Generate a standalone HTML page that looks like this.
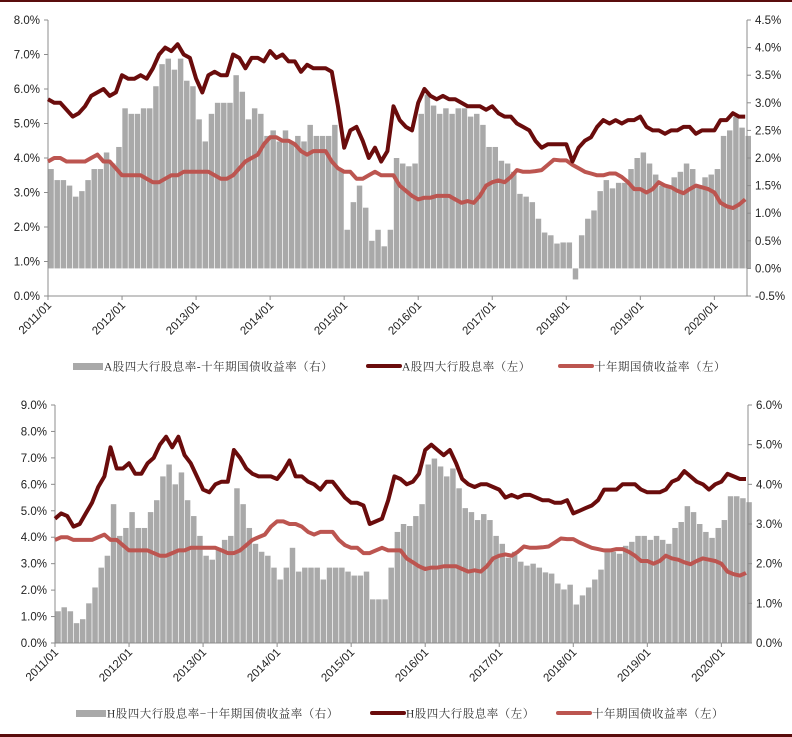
<!DOCTYPE html>
<html><head><meta charset="utf-8">
<style>
html,body{margin:0;padding:0;background:#fff;}
svg{display:block;font-family:"Liberation Serif","Noto Serif CJK SC",serif;}
.tk{font-family:"Liberation Sans",sans-serif;}
</style></head>
<body>
<svg id="c" width="792" height="737" viewBox="0 0 792 737" xmlns="http://www.w3.org/2000/svg">
<rect x="0" y="0" width="792" height="737" fill="#fff"/>
<rect x="0" y="0" width="792" height="2" fill="#5a0d0d"/>
<rect x="0" y="734" width="792" height="3" fill="#5a0d0d"/>
</svg>
<script>
// ---- data (monthly, starting 2011/01) ----
const aDiv = [5.7,5.6,5.6,5.4,5.2,5.3,5.5,5.8,5.9,6.0,5.8,5.9,6.4,6.3,6.3,6.4,6.3,6.6,7.0,7.2,7.1,7.3,7.0,6.9,6.3,5.9,6.4,6.5,6.4,6.4,7.0,6.9,6.6,6.9,6.9,6.8,7.1,6.9,7.0,6.8,6.8,6.5,6.7,6.6,6.6,6.6,6.5,5.5,4.3,4.8,4.9,4.5,4.0,4.3,3.9,4.2,5.5,5.1,4.9,4.8,5.6,6.0,5.8,5.7,5.8,5.7,5.7,5.6,5.5,5.5,5.5,5.4,5.5,5.3,5.2,5.2,5.0,4.9,4.8,4.5,4.3,4.4,4.4,4.4,4.4,3.9,4.3,4.5,4.6,4.9,5.1,5.0,5.1,5.0,5.1,5.1,5.2,4.9,4.8,4.8,4.7,4.8,4.8,4.9,4.9,4.7,4.8,4.8,4.8,5.1,5.1,5.3,5.2,5.2];
const bond = [3.9,4.0,4.0,3.9,3.9,3.9,3.9,4.0,4.1,3.9,3.9,3.7,3.5,3.5,3.5,3.5,3.4,3.3,3.3,3.4,3.5,3.5,3.6,3.6,3.6,3.6,3.6,3.5,3.4,3.4,3.5,3.7,3.9,4.0,4.1,4.4,4.6,4.6,4.5,4.5,4.4,4.2,4.1,4.2,4.2,4.2,3.9,3.7,3.6,3.6,3.4,3.4,3.5,3.6,3.5,3.5,3.5,3.2,3.05,2.9,2.8,2.85,2.85,2.9,2.9,2.9,2.8,2.7,2.75,2.7,2.9,3.2,3.3,3.35,3.3,3.45,3.65,3.6,3.6,3.62,3.65,3.8,3.95,3.93,3.93,3.8,3.7,3.6,3.55,3.5,3.5,3.55,3.55,3.45,3.3,3.1,3.1,3.0,3.1,3.3,3.2,3.15,3.05,2.98,3.1,3.2,3.15,3.1,3.0,2.7,2.6,2.55,2.65,2.8];
const aGap = [1.8,1.6,1.6,1.5,1.3,1.4,1.6,1.8,1.8,2.1,1.9,2.2,2.9,2.8,2.8,2.9,2.9,3.3,3.7,3.8,3.6,3.8,3.4,3.3,2.7,2.3,2.8,3.0,3.0,3.0,3.5,3.2,2.7,2.9,2.8,2.4,2.5,2.3,2.5,2.3,2.4,2.3,2.6,2.4,2.4,2.4,2.6,1.8,0.7,1.2,1.5,1.1,0.5,0.7,0.4,0.7,2.0,1.9,1.85,1.9,2.8,3.15,2.95,2.8,2.9,2.8,2.9,2.9,2.75,2.8,2.6,2.2,2.2,1.95,1.9,1.75,1.35,1.3,1.2,0.9,0.65,0.6,0.45,0.47,0.47,-0.2,0.6,0.9,1.05,1.4,1.6,1.45,1.55,1.55,1.8,2.0,2.1,1.9,1.7,1.5,1.5,1.65,1.75,1.9,1.8,1.5,1.65,1.7,1.8,2.4,2.5,2.75,2.55,2.4];
const hDiv = [4.7,4.9,4.8,4.4,4.5,4.9,5.3,5.9,6.3,7.4,6.6,6.6,6.8,6.4,6.4,6.8,7.0,7.5,7.8,7.4,7.8,7.1,6.8,6.3,5.8,5.7,6.0,6.1,6.1,7.3,7.0,6.6,6.4,6.3,6.3,6.3,6.2,6.5,6.9,6.3,6.3,6.1,6.0,5.8,6.1,6.1,5.8,5.5,5.3,5.3,5.2,4.5,4.6,4.7,5.4,6.3,6.2,6.0,6.1,6.4,7.3,7.5,7.3,7.1,7.3,6.8,6.2,6.0,5.9,6.0,6.0,5.9,5.8,5.5,5.6,5.5,5.6,5.6,5.5,5.4,5.4,5.3,5.3,5.4,4.9,5.0,5.1,5.2,5.4,5.8,5.8,5.8,6.0,6.0,6.0,5.8,5.7,5.7,5.7,5.8,6.1,6.2,6.5,6.3,6.1,6.0,5.8,6.0,6.1,6.4,6.3,6.2,6.2];
const hGap = [0.8,0.9,0.8,0.5,0.6,1.0,1.4,1.9,2.2,3.5,2.7,2.9,3.3,2.9,2.9,3.3,3.6,4.2,4.5,4.0,4.3,3.6,3.2,2.7,2.2,2.1,2.4,2.6,2.7,3.9,3.5,2.9,2.5,2.3,2.2,1.9,1.6,1.9,2.4,1.8,1.9,1.9,1.9,1.6,1.9,1.9,1.9,1.8,1.7,1.7,1.8,1.1,1.1,1.1,1.9,2.8,3.0,2.95,3.2,3.5,4.5,4.65,4.45,4.2,4.4,3.9,3.4,3.3,3.1,3.25,3.1,2.7,2.5,2.15,2.3,2.05,1.95,2.0,1.9,1.78,1.75,1.5,1.35,1.47,0.97,1.2,1.4,1.6,1.85,2.3,2.3,2.25,2.45,2.55,2.7,2.7,2.6,2.7,2.6,2.5,2.9,3.05,3.45,3.3,3.0,2.8,2.65,2.9,3.1,3.7,3.7,3.65,3.55];
const years = ["2011/01","2012/01","2013/01","2014/01","2015/01","2016/01","2017/01","2018/01","2019/01","2020/01"];
const topLeftTicks = [0,1,2,3,4,5,6,7,8];
const topRightTicks = [-0.5,0,0.5,1,1.5,2,2.5,3,3.5,4,4.5];
const botLeftTicks = [0,1,2,3,4,5,6,7,8,9];
const botRightTicks = [0,1,2,3,4,5,6];

const NS="http://www.w3.org/2000/svg";
const svg=document.getElementById('c');
function mk(tag,attrs,parent){const e=document.createElementNS(NS,tag);for(const k in attrs)e.setAttribute(k,attrs[k]);(parent||svg).appendChild(e);return e;}

function panel(cfg){
  const g=mk('g',{});
  
  
  const {x0,x1,yTop,yBot,lMin,lMax,rMin,rMax,mw}=cfg;
  const xs=m=>x0+m*mw;
  const yl=v=>yBot-(v-lMin)/(lMax-lMin)*(yBot-yTop);
  const yr=v=>yBot-(v-rMin)/(rMax-rMin)*(yBot-yTop);
  const bg=mk('g',{},g);
  
  
  const y0=yr(0);
  cfg.gap.forEach((v,i)=>{
    const y=yr(v);
    const r=mk('rect',{x:xs(i)+0.3,y:Math.min(y,y0),width:mw-0.7,height:Math.abs(y0-y),fill:'#a9a9a9'},bg);
    
    
  });
  const ax=mk('line',{x1:x0,y1:yTop,x2:x0,y2:yBot,stroke:'#8c8c8c','stroke-width':1},g);
  
  const axr=mk('line',{x1:x1,y1:yTop,x2:x1,y2:yBot,stroke:'#8c8c8c','stroke-width':1},g);
  
  const axb=mk('line',{x1:x0,y1:yBot,x2:x1,y2:yBot,stroke:'#8c8c8c','stroke-width':1},g);
  
  cfg.lt.forEach(v=>{
    const y=yl(v);
    mk('line',{x1:x0-4,y1:y,x2:x0,y2:y,stroke:'#8c8c8c'},g);
    const t=mk('text',{x:x0-8,y:y+4,'text-anchor':'end','font-size':11.5,fill:'#222',class:'tk'},g);
    t.textContent=v.toFixed(1)+'%';
    
  });
  cfg.rt.forEach(v=>{
    const y=yr(v);
    mk('line',{x1:x1,y1:y,x2:x1+4,y2:y,stroke:'#8c8c8c'},g);
    const t=mk('text',{x:x1+8,y:y+4,'font-size':11.5,fill:'#222',class:'tk'},g);
    t.textContent=v.toFixed(1)+'%';
    
  });
  years.forEach((s,i)=>{
    const x=xs(i*12);
    mk('line',{x1:x,y1:yBot,x2:x,y2:yBot+4,stroke:'#8c8c8c'},g);
    const t=mk('text',{x:x+4,y:yBot+10,'text-anchor':'end','font-size':11.5,fill:'#222',class:'tk',transform:`rotate(-45 ${x+4} ${yBot+10})`},g);
    t.textContent=s;
    
  });
  const line=(arr,col,name)=>{
    const d=arr.map((v,i)=>(i?'L':'M')+xs(i).toFixed(1)+','+yl(v).toFixed(1)).join('');
    const p=mk('path',{d:d,fill:'none',stroke:col,'stroke-width':4,'stroke-linejoin':'round'},g);
    
  };
  line(cfg.bond,'#bc5550',cfg.bondName);
  line(cfg.div,'#6a0c0c',cfg.divName);
  const lg=mk('g',{},g);
  
  const ly=cfg.ly;
  const l1=mk('rect',{x:cfg.lx[0],y:ly-3,width:30,height:7,fill:'#a9a9a9'},lg);
  
  const l2=mk('line',{x1:cfg.lx[1],y1:ly,x2:cfg.lx[1]+32,y2:ly,stroke:'#6a0c0c','stroke-width':4,'stroke-linecap':'round'},lg);
  
  const l3=mk('line',{x1:cfg.lx[2],y1:ly,x2:cfg.lx[2]+32,y2:ly,stroke:'#bc5550','stroke-width':4,'stroke-linecap':'round'},lg);
  
  cfg.labels.forEach((s,i)=>{
    const t=mk('text',{x:cfg.lx[i]+(i?34:31),y:ly+4.5,'font-size':11.5,fill:'#333','letter-spacing':'0.5'},lg);
    t.textContent=s;
    
  });
}

panel({name:'top-chart',barName:'a-gap-bars',divName:'a-dividend-line',bondName:'top-bond-line',
  x0:48,x1:747,yTop:20,yBot:296,lMin:0,lMax:8,rMin:-0.5,rMax:4.5,mw:6.17,
  gap:aGap,div:aDiv,bond:bond,lt:topLeftTicks,rt:topRightTicks,
  ly:366,lx:[73,368,560],
  labels:["A股四大行股息率-十年期国债收益率（右）","A股四大行股息率（左）","十年期国债收益率（左）"]});
panel({name:'bottom-chart',barName:'h-gap-bars',divName:'h-dividend-line',bondName:'bottom-bond-line',
  x0:55,x1:748,yTop:405,yBot:643,lMin:0,lMax:9,rMin:0,rMax:6,mw:6.17,
  gap:hGap,div:hDiv,bond:bond.slice(0,113),lt:botLeftTicks,rt:botRightTicks,
  ly:713,lx:[76,372,558],
  labels:["H股四大行股息率−十年期国债收益率（右）","H股四大行股息率（左）","十年期国债收益率（左）"]});
</script>
</body></html>
